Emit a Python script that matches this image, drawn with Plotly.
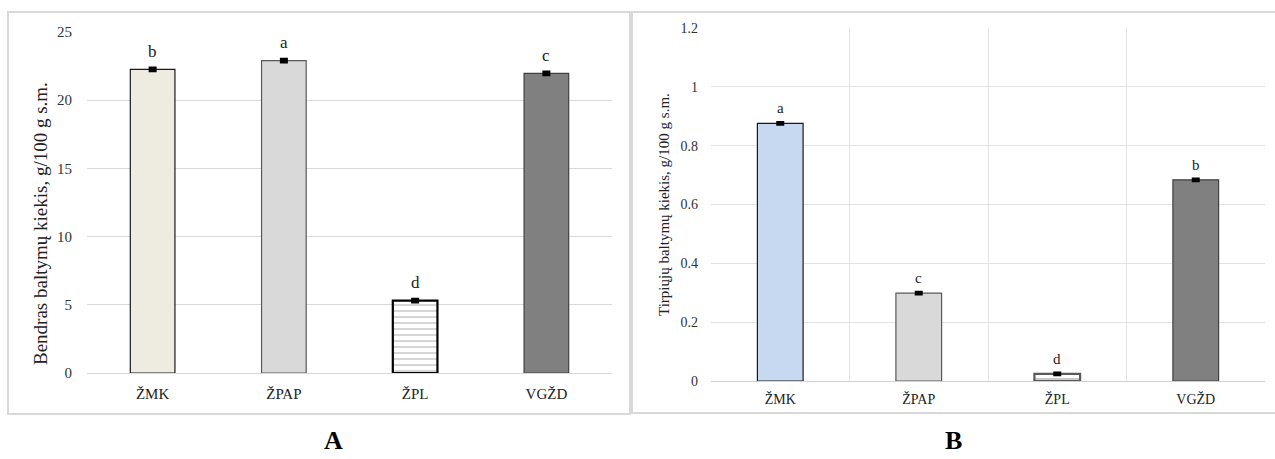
import plotly.graph_objects as go

W, H = 1275, 459

categories = ["ŽMK", "ŽPAP", "ŽPL", "VGŽD"]

# Panel A – total protein
a_values = [22.26, 22.90, 5.30, 21.97]
a_errors = [0.10, 0.10, 0.10, 0.10]
a_letters = ["b", "a", "d", "c"]
a_ticks = [0, 5, 10, 15, 20, 25]
a_title = "Bendras baltymų kiekis, g/100 g s.m."

# Panel B – soluble protein
b_values = [0.876, 0.299, 0.024, 0.684]
b_errors = [0.003, 0.003, 0.003, 0.003]
b_letters = ["a", "c", "d", "b"]
b_ticks = [0, 0.2, 0.4, 0.6, 0.8, 1, 1.2]
b_ticklabels = ["0", "0.2", "0.4", "0.6", "0.8", "1", "1.2"]
b_title = "Tirpiųjų baltymų kiekis, g/100 g s.m."

panel_labels = ["A", "B"]

a_fill = ["#EEEBE0", "#D9D9D9", "#FFFFFF", "#808080"]
b_fill = ["#C6D9F1", "#D9D9D9", "#FFFFFF", "#808080"]
a_outline = ["#1a1a1a", "#595959", "#000000", "#404040"]
b_outline = ["#1a1a1a", "#595959", "#595959", "#404040"]
line_w = [1.2, 1.2, 2.2, 1.2]
pattern_shapes = ["", "", "-", ""]

FONT = "Liberation Serif"

def px(x):
    return x / W

def py(y):
    return 1 - y / H

fig = go.Figure()

fig.add_trace(go.Bar(
    x=categories, y=a_values, xaxis="x", yaxis="y", width=0.34,
    marker=dict(color=a_fill, line=dict(color=a_outline, width=line_w),
                pattern=dict(shape=pattern_shapes, fgcolor="#777777", bgcolor="#FFFFFF",
                             size=6, solidity=0.15)),
    error_y=dict(type="data", array=a_errors, visible=True, color="#000000",
                 thickness=3, width=4),
    showlegend=False,
))
fig.add_trace(go.Bar(
    x=categories, y=b_values, xaxis="x2", yaxis="y2", width=0.33,
    marker=dict(color=b_fill, line=dict(color=b_outline, width=line_w),
                pattern=dict(shape=pattern_shapes, fgcolor="#333333", bgcolor="#FFFFFF",
                             size=6, solidity=0.2)),
    error_y=dict(type="data", array=b_errors, visible=True, color="#000000",
                 thickness=3, width=4),
    showlegend=False,
))

annotations = []
for c, v, e, t in zip(categories, a_values, a_errors, a_letters):
    annotations.append(dict(x=c, y=v + e, xref="x", yref="y", text=t, showarrow=False,
                            yanchor="bottom", yshift=5,
                            font=dict(family=FONT, size=17, color="#222")))
for c, v, e, t in zip(categories, b_values, b_errors, b_letters):
    annotations.append(dict(x=c, y=v + e, xref="x2", yref="y2", text=t, showarrow=False,
                            yanchor="bottom", yshift=4,
                            font=dict(family=FONT, size=15, color="#222")))
annotations.append(dict(x=px(40), y=py(224), xref="paper", yref="paper", text=a_title,
                        textangle=-90, showarrow=False, xanchor="center", yanchor="middle",
                        font=dict(family=FONT, size=19, color="#222")))
annotations.append(dict(x=px(664), y=py(205), xref="paper", yref="paper", text=b_title,
                        textangle=-90, showarrow=False, xanchor="center", yanchor="middle",
                        font=dict(family=FONT, size=15, color="#222")))
annotations.append(dict(x=px(333), y=py(440), xref="paper", yref="paper",
                        text="<b>" + panel_labels[0] + "</b>", xanchor="center", yanchor="middle",
                        showarrow=False, font=dict(family=FONT, size=26, color="#000")))
annotations.append(dict(x=px(953), y=py(440), xref="paper", yref="paper",
                        text="<b>" + panel_labels[1] + "</b>", xanchor="center", yanchor="middle",
                        showarrow=False, font=dict(family=FONT, size=26, color="#000")))

shapes = [
    dict(type="rect", xref="paper", yref="paper", x0=px(8), x1=px(630), y0=py(414), y1=py(12),
         line=dict(color="#D9D9D9", width=2), layer="below"),
    dict(type="rect", xref="paper", yref="paper", x0=px(632), x1=px(1276), y0=py(413), y1=py(12),
         line=dict(color="#D9D9D9", width=2), layer="below"),
]

fig.update_layout(
    width=W, height=H,
    margin=dict(l=0, r=0, t=0, b=0, autoexpand=False),
    paper_bgcolor="white", plot_bgcolor="white",
    font=dict(family=FONT),
    annotations=annotations, shapes=shapes,
    xaxis=dict(domain=[px(87), px(612)], anchor="y", automargin=False,
               tickfont=dict(family=FONT, size=15, color="#222"),
               showgrid=False, showline=False, ticks="", ticklabelstandoff=10,
               range=[-0.5, 3.5]),
    yaxis=dict(domain=[py(373), py(32)], anchor="x", automargin=False, range=[0, 25], tickvals=a_ticks,
               tickfont=dict(family=FONT, size=15, color="#333"),
               showgrid=True, gridcolor="#D9D9D9", gridwidth=1, zeroline=True,
               zerolinecolor="#D9D9D9", zerolinewidth=1, showline=False, ticks="",
               ticklabelstandoff=14),
    xaxis2=dict(domain=[px(711), px(1265)], anchor="y2", automargin=False,
                tickfont=dict(family=FONT, size=14, color="#222"),
                showgrid=True, gridcolor="#E3E3E3", gridwidth=1, tickson="boundaries",
                showline=False, ticks="", ticklabelstandoff=8, range=[-0.5, 3.5]),
    yaxis2=dict(domain=[py(381), py(28)], anchor="x2", automargin=False, range=[0, 1.2], tickvals=b_ticks,
                ticktext=b_ticklabels, tickfont=dict(family=FONT, size=14, color="#333"),
                showgrid=True, gridcolor="#E3E3E3", gridwidth=1, zeroline=True,
                zerolinecolor="#D0D0D0", zerolinewidth=1, showline=False, ticks="",
                ticklabelstandoff=12),
)

fig.write_html("out.html")
